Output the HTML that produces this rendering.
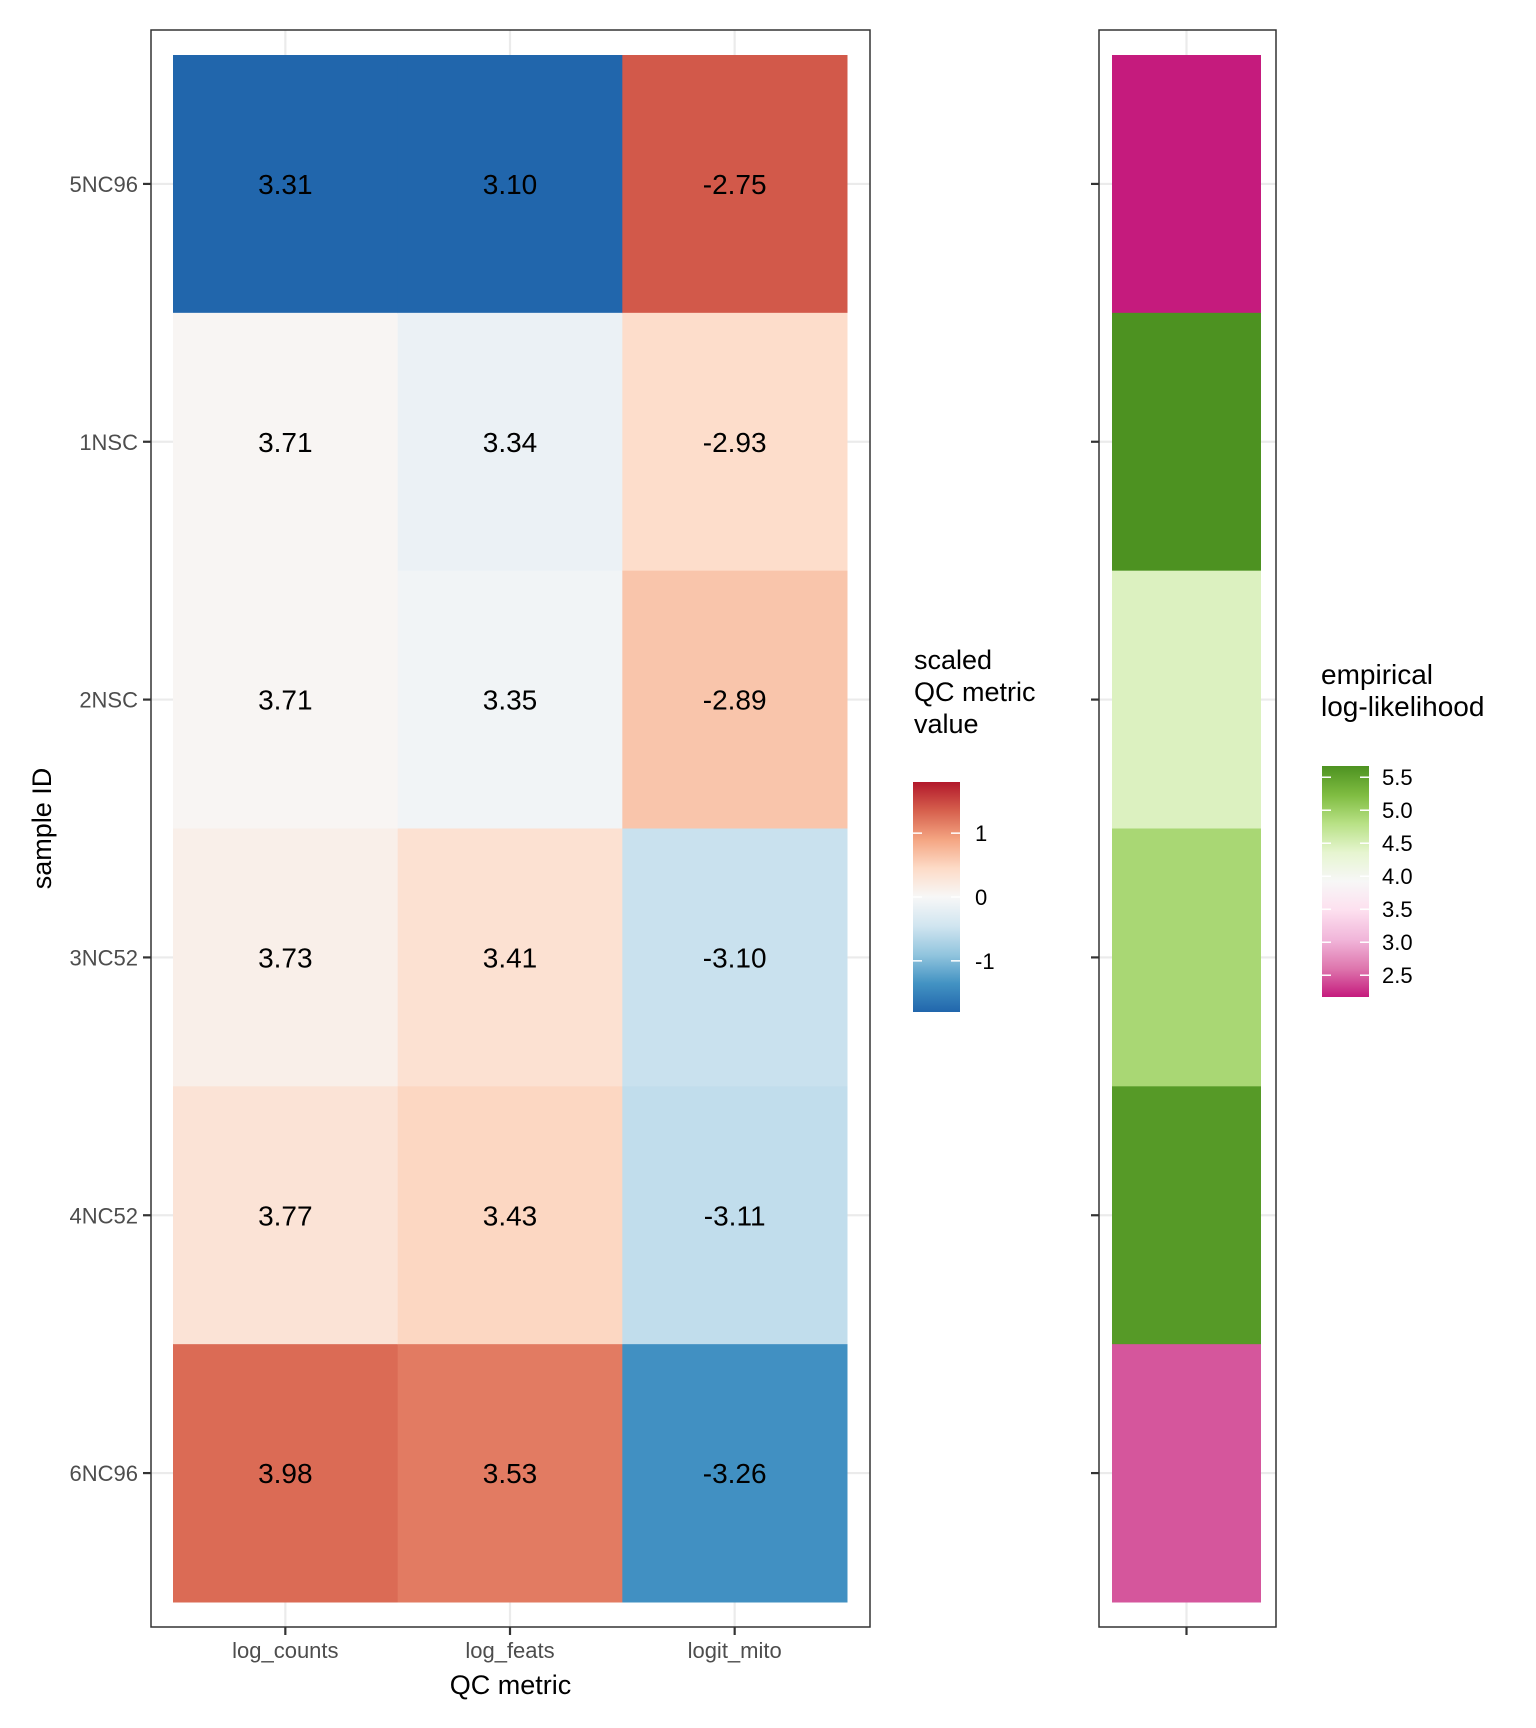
<!DOCTYPE html>
<html><head><meta charset="utf-8"><style>
html,body{margin:0;padding:0;background:#fff;}
svg{display:block;font-family:"Liberation Sans",Arial,sans-serif;}
</style></head><body>
<svg id="chart" xmlns="http://www.w3.org/2000/svg" width="1536" height="1728" viewBox="0 0 1536 1728">
<defs>
<linearGradient id="gradRdBu" x1="0" y1="1" x2="0" y2="0"></linearGradient>
<linearGradient id="gradPiYG" x1="0" y1="1" x2="0" y2="0"></linearGradient>
</defs>
<rect x="0" y="0" width="1536" height="1728" fill="#fff"/>
<g id="p1"></g>
<g id="p2"></g>
<g id="leg"></g>
</svg>
<script>
const samples = ["5NC96","1NSC","2NSC","3NC52","4NC52","6NC96"];
const metrics = ["log_counts","log_feats","logit_mito"];
const logCounts = [3.31,3.71,3.71,3.73,3.77,3.98];
const logFeats = [3.10,3.34,3.35,3.41,3.43,3.53];
const logitMito = [-2.75,-2.93,-2.89,-3.10,-3.11,-3.26];
const logLik = [2.17,5.67,4.45,4.91,5.59,2.45];
const qcTicks = [1,0,-1];
const llTicks = [5.5,5.0,4.5,4.0,3.5,3.0,2.5];

const NS="http://www.w3.org/2000/svg";
function mk(tag,attrs,parent){const e=document.createElementNS(NS,tag);for(const k in attrs)e.setAttribute(k,attrs[k]);parent.appendChild(e);return e;}
const RdBu=["#2166AC","#4393C3","#92C5DE","#D1E5F0","#F7F7F7","#FDDBC7","#F4A582","#D6604D","#B2182B"];
const PiYG=["#C51B7D","#DE77AE","#F1B6DA","#FDE0EF","#F7F7F7","#E6F5D0","#B8E186","#7FBC41","#4D9221"];
function hex2rgb(h){return [1,3,5].map(i=>parseInt(h.substr(i,2),16));}
function pal(cols,t){t=Math.max(0,Math.min(1,t));const p=t*(cols.length-1);const i=Math.min(Math.floor(p),cols.length-2);const f=p-i;const a=hex2rgb(cols[i]),b=hex2rgb(cols[i+1]);return "rgb("+a.map((v,k)=>Math.round(v+(b[k]-v)*f)).join(",")+")";}
function zscore(a){const m=a.reduce((s,v)=>s+v,0)/a.length;const sd=Math.sqrt(a.reduce((s,v)=>s+(v-m)*(v-m),0)/(a.length-1));return a.map(v=>(v-m)/sd);}
const cols=[logCounts,logFeats,logitMito];
const scaled=cols.map(zscore);
const allZ=scaled.flat();
const zLim=Math.max(...allZ.map(Math.abs));
const zMin=-zLim, zMax=zLim;
const llMin=Math.min(...logLik), llMax=Math.max(...logLik);

const P1={l:151,r:870,t:30,b:1627}, P2={l:1099,r:1276,t:30,b:1627};
const tileTop=55,tileBot=1602,tileL=173,tileR=847;
const rowH=(tileBot-tileTop)/samples.length, colW=(tileR-tileL)/metrics.length;
const yPos=i=>tileTop+rowH*(i+0.5), xPos=j=>tileL+colW*(j+0.5);

const p1=document.getElementById('p1'), p2=document.getElementById('p2'), leg=document.getElementById('leg');
samples.forEach((s,i)=>{
  let g=mk('line',{x1:P1.l,x2:P1.r,y1:yPos(i),y2:yPos(i),stroke:"#EBEBEB","stroke-width":2.2},p1);
  
  g=mk('line',{x1:P2.l,x2:P2.r,y1:yPos(i),y2:yPos(i),stroke:"#EBEBEB","stroke-width":2.2},p2);
  
});
metrics.forEach((m,j)=>{
  const g=mk('line',{x1:xPos(j),x2:xPos(j),y1:P1.t,y2:P1.b,stroke:"#EBEBEB","stroke-width":2.2},p1);
  
});
const cx2=(1112+1261)/2;
{const g=mk('line',{x1:cx2,x2:cx2,y1:P2.t,y2:P2.b,stroke:"#EBEBEB","stroke-width":2.2},p2);
}
metrics.forEach((m,j)=>{samples.forEach((s,i)=>{
  const r=mk('rect',{x:tileL+colW*j,y:tileTop+rowH*i,width:colW+0.5,height:rowH+0.5,fill:pal(RdBu,(scaled[j][i]-zMin)/(zMax-zMin))},p1);
  
});});
metrics.forEach((m,j)=>{samples.forEach((s,i)=>{
  const t=mk('text',{x:xPos(j),y:yPos(i)+10,"text-anchor":"middle","font-size":28,fill:"#000"},p1);
  t.textContent=cols[j][i].toFixed(2);
  
});});
samples.forEach((s,i)=>{
  const r=mk('rect',{x:1112,y:tileTop+rowH*i,width:149,height:rowH+0.5,fill:pal(PiYG,(logLik[i]-llMin)/(llMax-llMin))},p2);
  
});
{let b=mk('rect',{x:P1.l,y:P1.t,width:P1.r-P1.l,height:P1.b-P1.t,fill:"none",stroke:"#333","stroke-width":1.5},p1);

b=mk('rect',{x:P2.l,y:P2.t,width:P2.r-P2.l,height:P2.b-P2.t,fill:"none",stroke:"#333","stroke-width":1.5},p2);
}
samples.forEach((s,i)=>{
  let t=mk('line',{x1:P1.l-8,x2:P1.l,y1:yPos(i),y2:yPos(i),stroke:"#333","stroke-width":2.2},p1);
  
  t=mk('line',{x1:P2.l-8,x2:P2.l,y1:yPos(i),y2:yPos(i),stroke:"#333","stroke-width":2.2},p2);
  
  const l=mk('text',{x:138,y:yPos(i)+8,"text-anchor":"end","font-size":22,fill:"#4D4D4D"},p1);
  l.textContent=s;
  
});
metrics.forEach((m,j)=>{
  const t=mk('line',{x1:xPos(j),x2:xPos(j),y1:P1.b,y2:P1.b+8,stroke:"#333","stroke-width":2.2},p1);
  
  const l=mk('text',{x:xPos(j),y:1658,"text-anchor":"middle","font-size":22,fill:"#4D4D4D"},p1);
  l.textContent=m;
  
});
{const t=mk('line',{x1:cx2,x2:cx2,y1:P2.b,y2:P2.b+8,stroke:"#333","stroke-width":2.2},p2);
}
{let t=mk('text',{x:(P1.l+P1.r)/2,y:1694,"text-anchor":"middle","font-size":27,fill:"#000"},p1);
t.textContent="QC metric";
t=mk('text',{x:0,y:0,"text-anchor":"middle","font-size":27,fill:"#000",transform:"translate(51,"+((tileTop+tileBot)/2)+") rotate(-90)"},p1);
t.textContent="sample ID";}
const g1=document.getElementById('gradRdBu');
RdBu.forEach((c,k)=>mk('stop',{offset:k/(RdBu.length-1),"stop-color":c},g1));
const g2=document.getElementById('gradPiYG');
PiYG.forEach((c,k)=>mk('stop',{offset:k/(PiYG.length-1),"stop-color":c},g2));
["scaled","QC metric","value"].forEach((s,k)=>{
  const t=mk('text',{x:914,y:669+32*k,"font-size":27,fill:"#000"},leg);t.textContent=s;
  
});
const L1={x:913,w:47,t:782,b:1012};
{const r=mk('rect',{x:L1.x,y:L1.t,width:L1.w,height:L1.b-L1.t,fill:"url(#gradRdBu)"},leg);
}
const zY=v=>L1.b-(v-zMin)/(zMax-zMin)*(L1.b-L1.t);
qcTicks.forEach(v=>{
  const y=zY(v);
  let a=mk('line',{x1:L1.x,x2:L1.x+9,y1:y,y2:y,stroke:"#fff","stroke-width":1.5},leg);
  
  a=mk('line',{x1:L1.x+L1.w-9,x2:L1.x+L1.w,y1:y,y2:y,stroke:"#fff","stroke-width":1.5},leg);
  
  const t=mk('text',{x:975,y:y+8,"font-size":22,fill:"#000"},leg);t.textContent=String(v);
  
});
["empirical","log-likelihood"].forEach((s,k)=>{
  const t=mk('text',{x:1321,y:684+32*k,"font-size":28,fill:"#000"},leg);t.textContent=s;
  
});
const L2={x:1322,w:47,t:766,b:997};
{const r=mk('rect',{x:L2.x,y:L2.t,width:L2.w,height:L2.b-L2.t,fill:"url(#gradPiYG)"},leg);
}
const lY=v=>L2.b-(v-llMin)/(llMax-llMin)*(L2.b-L2.t);
llTicks.forEach(v=>{
  const y=lY(v);
  let a=mk('line',{x1:L2.x,x2:L2.x+9,y1:y,y2:y,stroke:"#fff","stroke-width":1.5},leg);
  
  a=mk('line',{x1:L2.x+L2.w-9,x2:L2.x+L2.w,y1:y,y2:y,stroke:"#fff","stroke-width":1.5},leg);
  
  const t=mk('text',{x:1382,y:y+8,"font-size":22,fill:"#000"},leg);t.textContent=v.toFixed(1);
  
});
</script>
</body></html>
